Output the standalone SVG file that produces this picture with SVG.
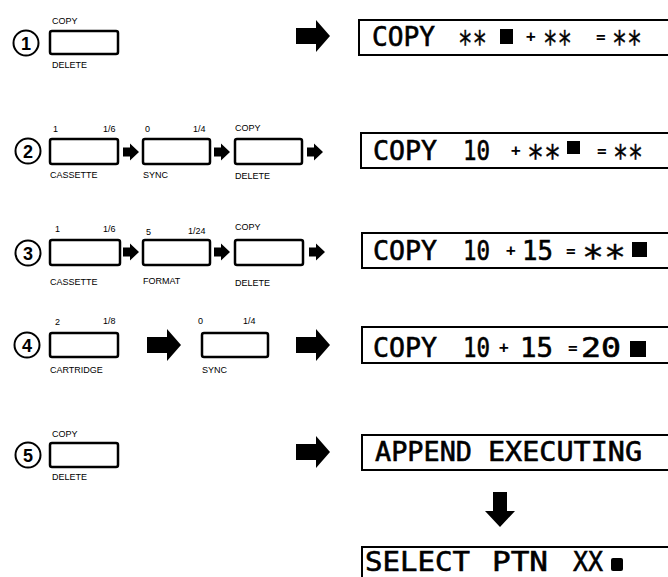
<svg xmlns="http://www.w3.org/2000/svg" width="668" height="577" viewBox="0 0 668 577">
<defs>
<style>
.bg{fill:#fff}
.btn{fill:#fff;stroke:#000;stroke-width:2.5}
.disp{fill:#fff;stroke:#000;stroke-width:2}
.num{fill:none;stroke:#000;stroke-width:2}
.dig{font-family:"Liberation Sans",Arial,sans-serif;font-weight:bold;font-size:18px;text-anchor:middle;fill:#000}
.lbl{font-family:"Liberation Sans",Arial,sans-serif;font-size:9px;fill:#000}
.lcd{font-family:"DejaVu Sans Mono","Liberation Mono",monospace;font-size:27px;fill:#000;stroke:#000;stroke-width:0.6}
.ast{font-family:"DejaVu Sans Mono","Liberation Mono",monospace;font-size:34px;fill:#000;stroke:#000;stroke-width:0.4}
.op{font-family:"DejaVu Sans Mono","Liberation Mono",monospace;font-weight:bold;font-size:16px;fill:#000}
.arr{fill:#000}
</style>
<path id="sa" d="M0,-4.5 H7 V-8.5 L16,0 L7,8.5 V4.5 H0 Z"/>
<path id="ba" d="M0,-8 H20 V-16 L34,0 L20,16 V8 H0 Z"/>
</defs>
<rect class="bg" x="0" y="0" width="668" height="577"/>

<g id="connectors">
<use href="#ba" class="arr" x="296" y="36"/>
<use href="#sa" class="arr" x="123" y="152"/>
<use href="#sa" class="arr" x="214" y="152"/>
<use href="#sa" class="arr" x="307" y="152"/>
<use href="#sa" class="arr" x="123" y="252"/>
<use href="#sa" class="arr" x="214" y="252"/>
<use href="#sa" class="arr" x="309" y="252"/>
<use href="#ba" class="arr" x="147" y="345"/>
<use href="#ba" class="arr" x="296" y="345"/>
<use href="#ba" class="arr" x="296" y="452"/>
<path class="arr" d="M493,492 H507 V511 H515 L500,527 L485,511 H493 Z"/>
</g>

<g id="step1">
<circle class="num" cx="26" cy="43" r="12.5"/><text class="dig" x="26" y="49.5">1</text>
<rect class="btn" x="50" y="31" width="68" height="23" rx="2"/>
<text class="lbl" x="52" y="24">COPY</text>
<text class="lbl" x="52" y="68">DELETE</text>
</g>

<g id="step2">
<circle class="num" cx="28" cy="151" r="12.5"/><text class="dig" x="28" y="157.5">2</text>
<rect class="btn" x="50" y="139" width="68" height="25" rx="2"/>
<text class="lbl" x="53" y="132">1</text><text class="lbl" x="103" y="132">1/6</text>
<text class="lbl" x="50" y="178">CASSETTE</text>
<rect class="btn" x="143" y="139" width="67" height="25" rx="2"/>
<text class="lbl" x="145" y="132">0</text><text class="lbl" x="193" y="132">1/4</text>
<text class="lbl" x="143" y="178">SYNC</text>
<rect class="btn" x="235" y="139" width="67" height="25" rx="2"/>
<text class="lbl" x="235" y="131">COPY</text>
<text class="lbl" x="235" y="179">DELETE</text>
</g>

<g id="step3">
<circle class="num" cx="28" cy="253" r="12.5"/><text class="dig" x="28" y="259.5">3</text>
<rect class="btn" x="50" y="240" width="70" height="25" rx="2"/>
<text class="lbl" x="55" y="232">1</text><text class="lbl" x="103" y="232">1/6</text>
<text class="lbl" x="50" y="285">CASSETTE</text>
<rect class="btn" x="143" y="240" width="67" height="25" rx="2"/>
<text class="lbl" x="146" y="235">5</text><text class="lbl" x="188" y="234">1/24</text>
<text class="lbl" x="143" y="284">FORMAT</text>
<rect class="btn" x="235" y="240" width="68" height="25" rx="2"/>
<text class="lbl" x="235" y="230">COPY</text>
<text class="lbl" x="235" y="286">DELETE</text>
</g>

<g id="step4">
<circle class="num" cx="27" cy="345" r="12.5"/><text class="dig" x="27" y="351.5">4</text>
<rect class="btn" x="50" y="333" width="68" height="24" rx="2"/>
<text class="lbl" x="55" y="325">2</text><text class="lbl" x="103" y="324">1/8</text>
<text class="lbl" x="50" y="373">CARTRIDGE</text>
<rect class="btn" x="202" y="333" width="66" height="24" rx="2"/>
<text class="lbl" x="198" y="324">0</text><text class="lbl" x="243" y="324">1/4</text>
<text class="lbl" x="202" y="373">SYNC</text>
</g>

<g id="step5">
<circle class="num" cx="28" cy="455" r="12.5"/><text class="dig" x="28" y="461.5">5</text>
<rect class="btn" x="50" y="443" width="68" height="24" rx="2"/>
<text class="lbl" x="52" y="437">COPY</text>
<text class="lbl" x="52" y="480">DELETE</text>
</g>

<g id="display1">
<rect class="disp" x="359" y="20" width="320" height="35"/>
<text class="lcd" x="372" y="46" textLength="63" lengthAdjust="spacingAndGlyphs">COPY</text>
<text class="ast" x="458" y="55" textLength="29" lengthAdjust="spacingAndGlyphs">**</text>
<rect x="500" y="29" width="13" height="15" fill="#000"/>
<text class="op" x="526" y="42">+</text>
<text class="ast" x="543" y="55" textLength="29" lengthAdjust="spacingAndGlyphs">**</text>
<text class="op" x="596" y="42">=</text>
<text class="ast" x="612" y="55" textLength="30" lengthAdjust="spacingAndGlyphs">**</text>
</g>

<g id="display2">
<rect class="disp" x="361" y="133" width="320" height="35"/>
<text class="lcd" x="373" y="160" textLength="64" lengthAdjust="spacingAndGlyphs">COPY</text>
<text class="lcd" x="463" y="160" textLength="27" lengthAdjust="spacingAndGlyphs">10</text>
<text class="op" x="511" y="156">+</text>
<text class="ast" x="527" y="169" textLength="34" lengthAdjust="spacingAndGlyphs">**</text>
<rect x="567" y="141" width="13" height="13" fill="#000"/>
<text class="op" x="597" y="156">=</text>
<text class="ast" x="613" y="169" textLength="30" lengthAdjust="spacingAndGlyphs">**</text>
</g>

<g id="display3">
<rect class="disp" x="362" y="233" width="320" height="35"/>
<text class="lcd" x="373" y="260" textLength="64" lengthAdjust="spacingAndGlyphs">COPY</text>
<text class="lcd" x="463" y="260" textLength="27" lengthAdjust="spacingAndGlyphs">10</text>
<text class="op" x="506" y="256">+</text>
<text class="lcd" x="522" y="260" textLength="31" lengthAdjust="spacingAndGlyphs">15</text>
<text class="op" x="566" y="256">=</text>
<text class="ast" x="582" y="269" textLength="44" lengthAdjust="spacingAndGlyphs">**</text>
<rect x="632" y="242" width="15" height="15" fill="#000"/>
</g>

<g id="display4">
<rect class="disp" x="362" y="327" width="320" height="36"/>
<text class="lcd" x="373" y="357" textLength="64" lengthAdjust="spacingAndGlyphs">COPY</text>
<text class="lcd" x="463" y="357" textLength="27" lengthAdjust="spacingAndGlyphs">10</text>
<text class="op" x="499" y="353">+</text>
<text class="lcd" x="520" y="357" textLength="33" lengthAdjust="spacingAndGlyphs">15</text>
<text class="op" x="568" y="353">=</text>
<text class="lcd" x="581" y="357" textLength="40" lengthAdjust="spacingAndGlyphs">20</text>
<rect x="630" y="341" width="16" height="16" fill="#000"/>
</g>

<g id="display5">
<rect class="disp" x="362" y="435" width="320" height="35"/>
<text class="lcd" x="375" y="461" textLength="97" lengthAdjust="spacingAndGlyphs">APPEND</text>
<text class="lcd" x="488" y="461" textLength="154" lengthAdjust="spacingAndGlyphs">EXECUTING</text>
</g>

<g id="display6">
<rect class="disp" x="362" y="547" width="320" height="40"/>
<text class="lcd" x="365" y="571" textLength="105" lengthAdjust="spacingAndGlyphs">SELECT</text>
<text class="lcd" x="492" y="571" textLength="56" lengthAdjust="spacingAndGlyphs">PTN</text>
<text class="lcd" x="573" y="571" textLength="30" lengthAdjust="spacingAndGlyphs">XX</text>
<rect x="611" y="558" width="12" height="13" rx="2" fill="#000"/>
</g>
</svg>
